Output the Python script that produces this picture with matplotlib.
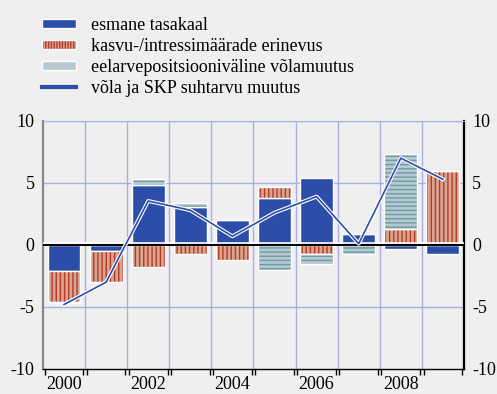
import matplotlib.pyplot as plt
import matplotlib.patheffects as pe
from matplotlib.colors import to_rgba
from matplotlib.patches import Patch
from matplotlib.lines import Line2D
import numpy as np

plt.rcParams["hatch.linewidth"] = 1.0
plt.rcParams["axes.unicode_minus"] = False

years = [2000, 2001, 2002, 2003, 2004, 2005, 2006, 2007, 2008, 2009]
tick_labels = ["2000", "", "2002", "", "2004", "", "2006", "", "2008", ""]
primary = [-2.1, -0.5, 4.85, 3.1, 2.0, 3.75, 5.4, 0.85, -0.35, -0.7]
growth_rate = [-2.5, -2.5, -1.8, -0.7, -1.2, 0.95, -0.7, 0.0, 1.3, 6.0]
other = [-0.1, 0.0, 0.5, 0.25, 0.0, -2.05, -0.85, -0.7, 6.05, 0.0]
debt_change = [-4.8, -3.0, 3.55, 2.8, 0.7, 2.6, 3.9, 0.1, 7.0, 5.3]

names = ["esmane tasakaal", "kasvu-/intressimäärade erinevus",
         "eelarvepositsiooniväline võlamuutus", "võla ja SKP suhtarvu muutus"]

BG = "#efefef"
BLUE = "#2c4ea8"
RED_FACE = "#d9a48e"
RED_HATCH = "#b33a2a"
GRAY_FACE = "#b6c9d1"
GRAY_HATCH = "#6c9aa6"
GRID = "#a9afe0"

fig = plt.figure(figsize=(4.97, 3.94), dpi=100, facecolor=BG)
ax = fig.add_axes([0.0865, 0.0635, 0.847, 0.6295], facecolor=BG)

x = np.arange(len(years))
w = 0.78
pos_base = np.zeros(len(years))
neg_base = np.zeros(len(years))
series = [
    (primary, BLUE, None, None),
    (growth_rate, RED_FACE, "||||", RED_HATCH),
    (other, GRAY_FACE, "----", GRAY_HATCH),
]
for vals, face, hatch, hcol in series:
    vals = np.array(vals)
    base = np.where(vals >= 0, pos_base, neg_base)
    bars = ax.bar(x, vals, w, bottom=base, color=face, edgecolor="white",
                  linewidth=1.0, zorder=3)
    if hatch:
        for b in bars:
            b.set_hatch(hatch)
            b._hatch_color = to_rgba(hcol)
    pos_base = pos_base + np.where(vals > 0, vals, 0)
    neg_base = neg_base + np.where(vals < 0, vals, 0)

ax.plot(x, debt_change, color=BLUE, lw=1.2, zorder=5,
        path_effects=[pe.Stroke(linewidth=2.8, foreground="white"), pe.Normal()])

ax.axhline(0.12, color="white", lw=1.2, zorder=4)
ax.axhline(0, color="black", lw=1.4, zorder=4)

ax.set_xlim(-0.5, len(years) - 0.5)
ax.set_ylim(-10, 10)
ax.set_yticks([-10, -5, 0, 5, 10])
ax.set_xticks(x)
ax.set_xticklabels(tick_labels)
ax.tick_params(axis="x", length=0, pad=5, labelsize=13)
ax.tick_params(axis="y", length=0, labelsize=13, pad=6,
               labelleft=True, labelright=True)
for lab in ax.get_xticklabels() + ax.get_yticklabels():
    lab.set_family("Liberation Serif")

bounds = np.arange(-0.5, len(years) + 0.5)
ax.set_xticks(np.concatenate([bounds[:-1] + 0.04, bounds[1:] - 0.04]), minor=True)
ax.tick_params(axis="x", which="minor", length=4, width=1.0, color="black",
               direction="out")

for b in bounds[1:-1]:
    ax.axvline(b, color=GRID, lw=1.0, zorder=1)
for yv in [-5, 5, 10]:
    ax.axhline(yv, color=GRID, lw=1.0, zorder=1)

ax.spines["top"].set_color(GRID)
ax.spines["left"].set_color("#888888")
ax.spines["left"].set_linewidth(1.6)
ax.spines["right"].set_color("black")
ax.spines["right"].set_linewidth(1.6)
ax.spines["bottom"].set_color("black")
ax.spines["bottom"].set_linewidth(1.0)

handles = [
    Patch(facecolor=BLUE, edgecolor="white", linewidth=1.0),
    Patch(facecolor=RED_FACE, edgecolor="white", hatch="||||||", linewidth=1.0),
    Patch(facecolor=GRAY_FACE, edgecolor="white", hatch="-", linewidth=1.0),
    Line2D([0], [0], color=BLUE, lw=3),
]
leg = fig.legend(handles, names, loc="upper left", bbox_to_anchor=(0.07, 0.975),
                 frameon=False, prop={"family": "Liberation Serif", "size": 13},
                 handlelength=1.9, handleheight=0.4, handletextpad=0.8,
                 labelspacing=0.22, borderaxespad=0)
leg.legend_handles[1]._hatch_color = to_rgba(RED_HATCH)
leg.legend_handles[2]._hatch_color = to_rgba(GRAY_HATCH)

fig.savefig("out.png", dpi=100, facecolor=BG)
